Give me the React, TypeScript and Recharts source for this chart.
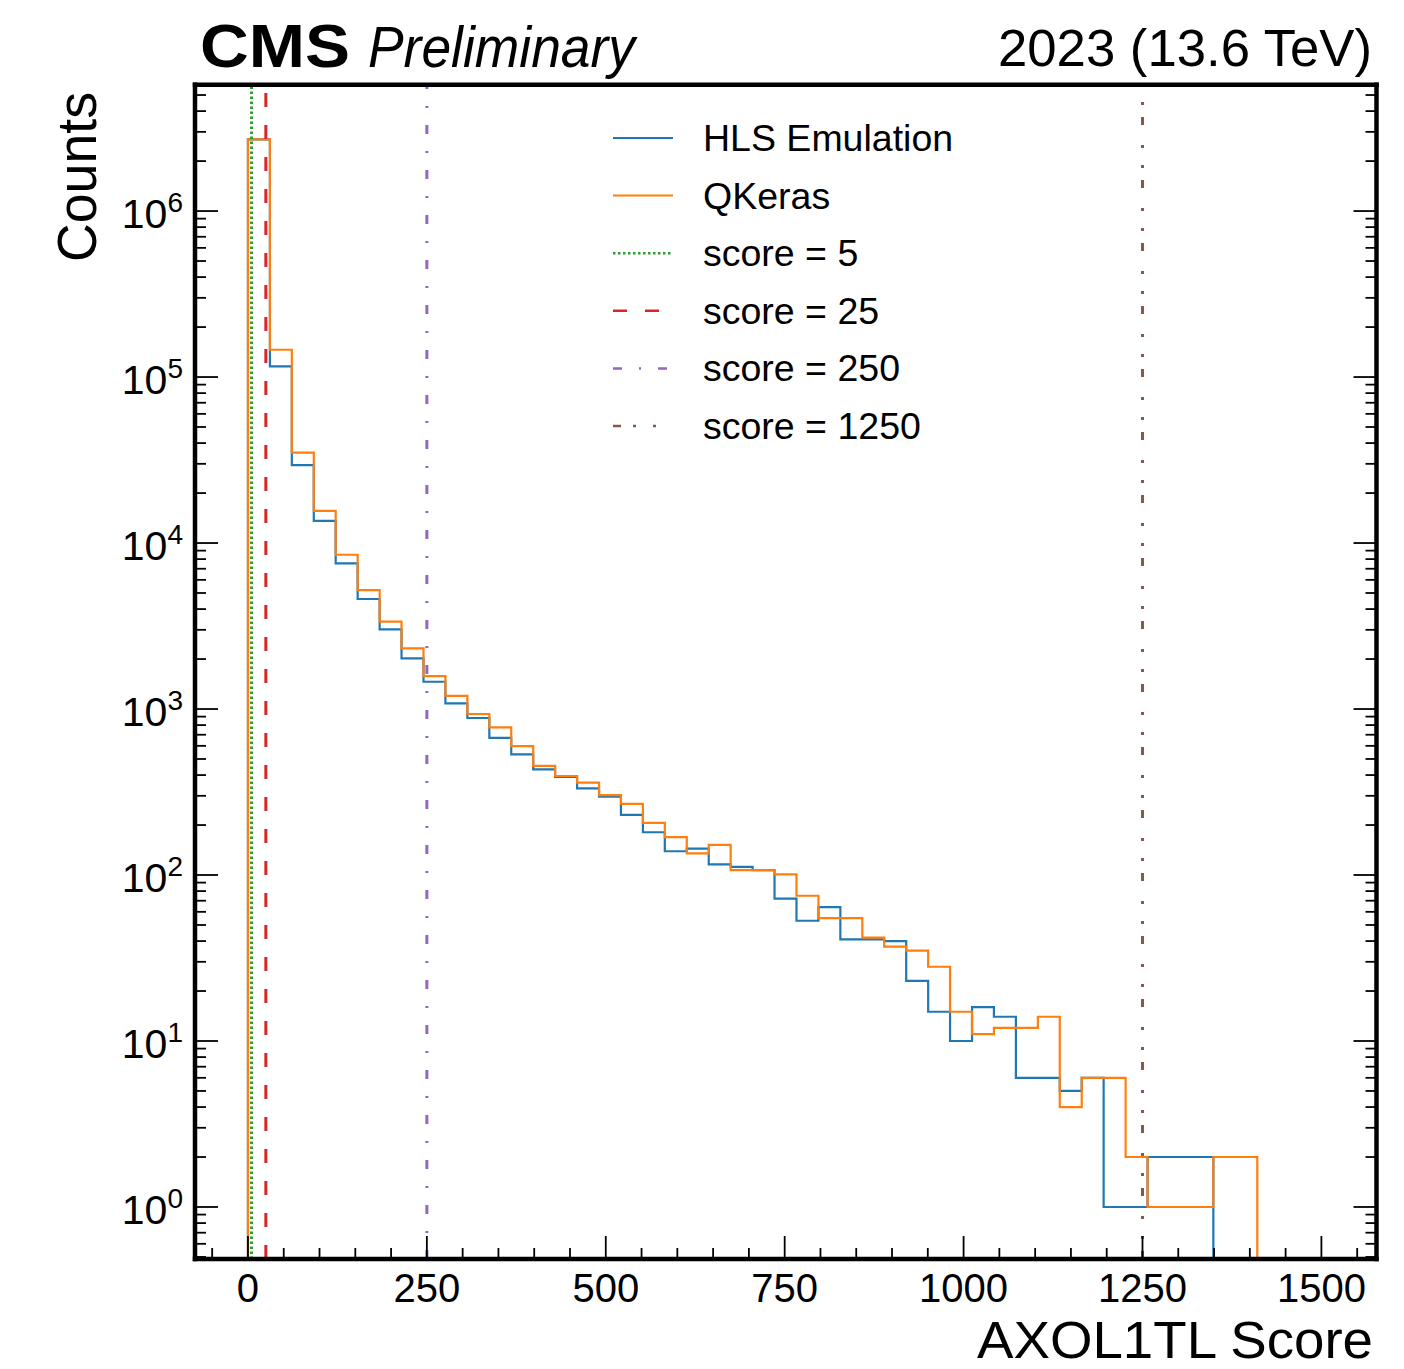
import React from 'react';
import { ComposedChart, Line, XAxis, YAxis, ReferenceLine, Legend } from 'recharts';

// bin edges of the score histogram (46 bins)
const BIN_EDGES = [
  0, 30.7, 61.3, 92.0, 122.6, 153.3, 184.0, 214.6, 245.3, 275.9, 306.6, 337.3,
  367.9, 398.6, 429.2, 459.9, 490.6, 521.2, 551.9, 582.5, 613.2, 643.9, 674.5,
  705.2, 735.8, 766.5, 797.2, 827.8, 858.5, 889.1, 919.8, 950.5, 981.1, 1011.8,
  1042.4, 1073.1, 1103.8, 1134.4, 1165.1, 1195.7, 1226.4, 1257.1, 1287.7,
  1318.4, 1349.0, 1379.7, 1410.4,
];

const HLS_COUNTS = [
  2.7e6, 1.16e5, 2.95e4, 1.36e4, 7550, 4600, 3020, 2020, 1460, 1080, 883, 671,
  533, 433, 390, 333, 297, 230, 181, 139, 144, 116, 112, 107, 72, 53, 64, 41,
  41, 40, 23, 15, 10, 16, 14, 6, 6, 5, 6, 1, 1, 2, 2, 2,
];

const QKERAS_COUNTS = [
  2.7e6, 1.46e5, 3.5e4, 1.56e4, 8500, 5200, 3360, 2320, 1580, 1200, 933, 776,
  598, 454, 395, 360, 303, 268, 206, 169, 135, 152, 107, 107, 101, 75, 55, 55,
  42, 37, 35, 28, 15, 11, 12, 12, 14, 4, 6, 6, 2, 1, 1, 1, 2, 2,
];

const THRESHOLDS = [
  { score: 5, label: 'score = 5', color: '#2ca02c', dash: '2.5 2.5' },
  { score: 25, label: 'score = 25', color: '#d62728', dash: '14 18' },
  { score: 250, label: 'score = 250', color: '#9467bd', dash: '9 17 2 17' },
  { score: 1250, label: 'score = 1250', color: '#8c564b', dash: '8 12 3 17 3 20' },
];

const X_MAJOR = [0, 250, 500, 750, 1000, 1250, 1500];
const X_DOMAIN = [-74, 1577];
const Y_DOMAIN = [0.486, 5.77e6];
const FLOOR = 0.05; // below the axis, used to close the step outline

const FONT = "'Liberation Sans', Arial, Helvetica, sans-serif";

const X_TICKS: number[] = [];
for (let v = -50; v <= 1550; v += 50) X_TICKS.push(v);

const Y_TICKS: number[] = [];
for (let k = -1; k <= 6; k++) {
  for (let d = 1; d <= 9; d++) {
    const v = d * Math.pow(10, k);
    if (v >= Y_DOMAIN[0] && v <= Y_DOMAIN[1]) Y_TICKS.push(v);
  }
}

// histtype="step" outline: rise at first edge, drop at last edge
function toSteps(counts: number[]) {
  const pts = [{ x: BIN_EDGES[0], y: FLOOR }];
  counts.forEach((c, i) => pts.push({ x: BIN_EDGES[i], y: c }));
  const end = BIN_EDGES[counts.length];
  pts.push({ x: end, y: counts[counts.length - 1] });
  pts.push({ x: end, y: FLOOR });
  return pts;
}

const hlsSteps = toSteps(HLS_COUNTS);
const qkerasSteps = toSteps(QKERAS_COUNTS);

const isDecade = (v: number) => Math.abs(Math.log10(v) - Math.round(Math.log10(v))) < 1e-6;

const xTick = (side: 'top' | 'bottom') => (props: any) => {
  const { x, y, payload } = props;
  const major = X_MAJOR.includes(payload.value);
  const len = major ? 23 : 11;
  const dir = side === 'bottom' ? -1 : 1;
  return (
    <g>
      <line x1={x} x2={x} y1={y} y2={y + dir * len} stroke="#000" strokeWidth={1.8} />
      {side === 'bottom' && major && (
        <text x={x} y={y + 43} textAnchor="middle" fontSize={40} fontFamily={FONT} fill="#000">
          {payload.value}
        </text>
      )}
    </g>
  );
};

const yTick = (side: 'left' | 'right') => (props: any) => {
  const { x, y, payload } = props;
  const major = isDecade(payload.value);
  const len = major ? 23 : 11;
  const dir = side === 'left' ? 1 : -1;
  return (
    <g>
      <line x1={x} x2={x + dir * len} y1={y} y2={y} stroke="#000" strokeWidth={1.8} />
      {side === 'left' && major && (
        <text x={x - 12} y={y + 17} textAnchor="end" fontSize={41} fontFamily={FONT} fill="#000">
          10
          <tspan dy={-16} fontSize={28}>
            {Math.round(Math.log10(payload.value))}
          </tspan>
        </text>
      )}
    </g>
  );
};

const LEGEND_ITEMS = [
  { label: 'HLS Emulation', color: '#1f77b4', dash: undefined as string | undefined, width: 2 },
  { label: 'QKeras', color: '#ff7f0e', dash: undefined as string | undefined, width: 2 },
  ...THRESHOLDS.map((t) => ({ label: t.label, color: t.color, dash: t.dash, width: 2.5 })),
];

function LegendBox() {
  return (
    <svg width={420} height={350}>
      {LEGEND_ITEMS.map((item, i) => {
        const cy = 33 + i * 57.6;
        return (
          <g key={item.label}>
            <line x1={13} x2={73} y1={cy} y2={cy} stroke={item.color} strokeWidth={item.width} strokeDasharray={item.dash} />
            <text x={103} y={cy + 13} fontSize={37.5} fontFamily={FONT} fill="#000">
              {item.label}
            </text>
          </g>
        );
      })}
    </svg>
  );
}

const frame = { stroke: '#000', strokeWidth: 4.5, strokeLinecap: 'square' as const };

export default function App() {
  return (
    <div style={{ position: 'absolute', left: 0, top: 0, width: 1404, height: 1369, background: '#fff' }}>
      <ComposedChart width={1404} height={1369} margin={{ top: 74.7, right: 17.5, bottom: 50, left: 95 }}>
        <XAxis
          type="number"
          dataKey="x"
          domain={X_DOMAIN}
          allowDataOverflow
          ticks={X_TICKS}
          interval={0}
          height={60}
          tickSize={0}
          tickMargin={0}
          tickLine={false}
          axisLine={frame}
          tick={xTick('bottom')}
        />
        <XAxis
          xAxisId="top"
          orientation="top"
          type="number"
          domain={X_DOMAIN}
          allowDataOverflow
          ticks={X_TICKS}
          interval={0}
          height={10}
          tickSize={0}
          tickMargin={0}
          tickLine={false}
          axisLine={frame}
          tick={xTick('top')}
        />
        <YAxis
          type="number"
          scale="log"
          domain={Y_DOMAIN}
          allowDataOverflow
          ticks={Y_TICKS}
          interval={0}
          width={100}
          tickSize={0}
          tickMargin={0}
          tickLine={false}
          axisLine={frame}
          tick={yTick('left')}
        />
        <YAxis
          yAxisId="right"
          orientation="right"
          type="number"
          scale="log"
          domain={Y_DOMAIN}
          allowDataOverflow
          ticks={Y_TICKS}
          interval={0}
          width={10}
          tickSize={0}
          tickMargin={0}
          tickLine={false}
          axisLine={frame}
          tick={yTick('right')}
        />
        <Line
          data={hlsSteps}
          dataKey="y"
          type="stepAfter"
          stroke="#1f77b4"
          strokeWidth={2.2}
          dot={false}
          activeDot={false}
          isAnimationActive={false}
        />
        <Line
          data={qkerasSteps}
          dataKey="y"
          type="stepAfter"
          stroke="#ff7f0e"
          strokeWidth={2.2}
          dot={false}
          activeDot={false}
          isAnimationActive={false}
        />
        {THRESHOLDS.map((t) => (
          <ReferenceLine key={t.score} x={t.score} stroke={t.color} strokeWidth={3} strokeDasharray={t.dash} />
        ))}
        <Legend
          layout="vertical"
          align="center"
          verticalAlign="middle"
          wrapperStyle={{ left: 600, top: 105, width: 420, height: 350 }}
          content={() => <LegendBox />}
        />
      </ComposedChart>
      <svg
        width={1404}
        height={1369}
        style={{ position: 'absolute', left: 0, top: 0, pointerEvents: 'none' }}
      >
        <text x={200} y={67} fontSize={62} fontWeight="bold" fontFamily={FONT} textLength={150} lengthAdjust="spacingAndGlyphs">
          CMS
        </text>
        <text x={368} y={67} fontSize={57} fontStyle="italic" fontFamily={FONT} textLength={267} lengthAdjust="spacingAndGlyphs">
          Preliminary
        </text>
        <text x={998} y={66} fontSize={51} fontFamily={FONT} textLength={374} lengthAdjust="spacingAndGlyphs">
          2023 (13.6 TeV)
        </text>
        <text
          transform="translate(96, 262) rotate(-90)"
          x={0}
          y={0}
          fontSize={55}
          fontFamily={FONT}
          textLength={170}
          lengthAdjust="spacingAndGlyphs"
        >
          Counts
        </text>
        <text x={977} y={1358} fontSize={51} fontFamily={FONT} textLength={396} lengthAdjust="spacingAndGlyphs">
          AXOL1TL Score
        </text>
      </svg>
    </div>
  );
}
